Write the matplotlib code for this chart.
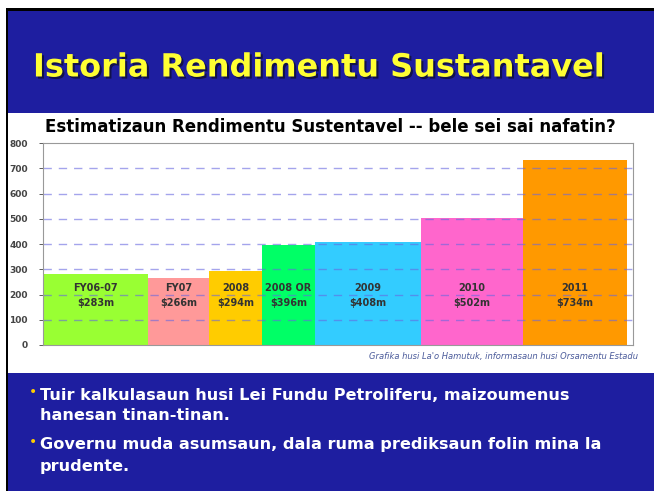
import matplotlib
matplotlib.use("Agg")
import matplotlib.pyplot as plt
from matplotlib.patches import Rectangle
import matplotlib.patheffects as pe

# donnees
periodes = ["FY06-07", "FY07", "2008", "2008 OR", "2009", "2010", "2011"]
valeurs = [283, 266, 294, 396, 408, 502, 734]
etiquettes = ["$283m", "$266m", "$294m", "$396m", "$408m", "$502m", "$734m"]
yticks = [0, 100, 200, 300, 400, 500, 600, 700, 800]

# mise en page (largeur des barres en pixels)
largeurs = [105, 61, 53, 53, 106, 102, 104]
couleurs = ["#99ff33", "#ff9999", "#ffcc00", "#00ff66", "#33ccff", "#ff66cc", "#ff9900"]

W, H = 654, 491
fig = plt.figure(figsize=(W / 100, H / 100), dpi=100)
fig.patch.set_facecolor("white")

def px(x, y, w, h):
	return [x / W, 1 - (y + h) / H, w / W, h / H]

# fond de la diapo
bg = fig.add_axes([0, 0, 1, 1])
bg.set_xlim(0, W)
bg.set_ylim(H, 0)
bg.axis("off")
bg.add_patch(Rectangle((6, 8), W, H, facecolor="black", edgecolor="none"))
bg.add_patch(Rectangle((8, 11), W, H, facecolor="#1e1ea0", edgecolor="none"))
bg.add_patch(Rectangle((8, 113), W, 260, facecolor="white", edgecolor="none"))

# titre
fig.text(33 / W, 1 - 68 / H, "Istoria Rendimentu Sustantavel", fontsize=23, fontweight="bold",
	color="#ffff33", va="center", ha="left", family="DejaVu Sans",
	path_effects=[pe.withSimplePatchShadow(offset=(1.5, -1.5), shadow_rgbFace="#101040", alpha=0.9)])

# graphique
ax = fig.add_axes(px(43, 143, 590, 202))
gauche = 0
for i in range(len(valeurs)):
	ax.bar(gauche, valeurs[i], width=largeurs[i], align="edge", color=couleurs[i], zorder=1)
	ax.text(gauche + largeurs[i] / 2, 196, periodes[i] + "\n" + etiquettes[i], ha="center", va="center",
		fontsize=7, fontweight="bold", color="#333333", linespacing=1.7, zorder=3)
	gauche += largeurs[i]
ax.set_xlim(0, 590)
ax.set_ylim(0, 800)
ax.set_xticks([])
ax.set_yticks(yticks)
ax.tick_params(axis="y", labelsize=6.5, colors="#444444", length=3, width=0.6, pad=8)
for lab in ax.get_yticklabels():
	lab.set_fontweight("bold")
for t in yticks[1:-1]:
	ax.axhline(t, color="#6868e0", lw=1, dashes=(6, 5), alpha=0.6, zorder=2)
for s in ax.spines.values():
	s.set_color("#999999")
	s.set_linewidth(0.8)

fig.text(45 / W, 1 - 127 / H, "Estimatizaun Rendimentu Sustentavel -- bele sei sai nafatin?",
	fontsize=12, fontweight="bold", color="black", va="center", ha="left")
fig.text(638 / W, 1 - 357 / H, "Grafika husi La'o Hamutuk, informasaun husi Orsamentu Estadu",
	fontsize=6, style="italic", color="#4a5a9a", va="center", ha="right")

# puces
lignes = [(395, True, "Tuir kalkulasaun husi Lei Fundu Petroliferu, maizoumenus"),
	(415, False, "hanesan tinan-tinan."),
	(445, True, "Governu muda asumsaun, dala ruma prediksaun folin mina la"),
	(466, False, "prudente.")]
for y, puce, texte in lignes:
	if puce:
		fig.text(29 / W, 1 - (y - 3) / H, "•", fontsize=10, color="#ffcc00", va="center", ha="left")
	fig.text(40 / W, 1 - y / H, texte, fontsize=11.6, fontweight="bold", color="white", va="center", ha="left")

fig.savefig("out.png", dpi=100)
